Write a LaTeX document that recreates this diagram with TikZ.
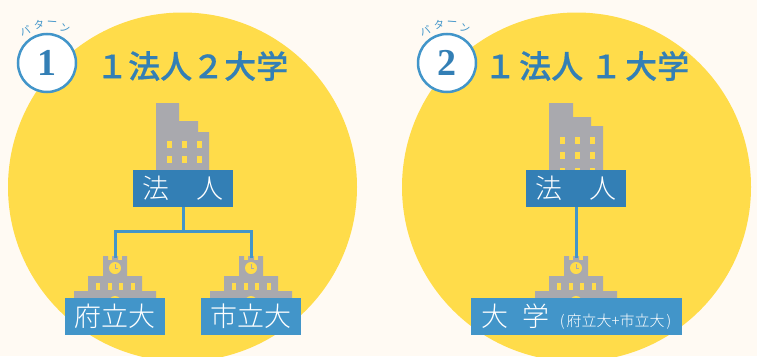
\documentclass[tikz,border=0pt]{standalone}
\usepackage{fontspec}
\setmainfont{Noto Sans CJK JP}
\newfontfamily\numfont{Liberation Serif}
\newfontfamily\headfont[FakeBold=0.6]{Noto Sans CJK JP Medium}
\newfontfamily\platefont{Noto Sans CJK JP Light}
\definecolor{paper}{HTML}{FFFAF3}
\definecolor{sun}{HTML}{FFDC4A}
\definecolor{stone}{HTML}{A9A9AE}
\definecolor{deepblue}{HTML}{337FB5}
\definecolor{skyblue}{HTML}{4295C9}
\begin{document}
\begin{tikzpicture}[x=1pt,y=-1pt]
\tikzset{
    corp/.style={fill=deepblue, text=white, minimum width=100pt, minimum height=37pt, inner sep=0pt, font=\fontsize{27}{27}\selectfont\platefont},
    school/.style={corp, fill=skyblue},
    title/.style={text=deepblue, inner sep=0pt, font=\fontsize{32}{32}\selectfont\headfont},
    badge/.style={circle, fill=white, draw=skyblue, line width=2.5pt, minimum size=58pt, inner sep=0pt, text=deepblue, font=\fontsize{38}{38}\selectfont\numfont\bfseries},
    kana/.style={text=skyblue, inner sep=0pt, font=\fontsize{10.5}{11}\selectfont},
    link/.style={draw=skyblue, line width=3pt},
}
% College building, centred on x = #1.
\def\Campus(#1){
    \fill[stone, shift={(#1,0)}] (-12,256) -- (-7,256) -- (-7,260) -- (-3,260) -- (-3,256) -- (3,256) -- (3,260) -- (7,260) -- (7,256) -- (12,256) -- (12,276)
        -- (27,276) -- (27,291) -- (41,291) -- (41,298) -- (-41,298) -- (-41,291) -- (-27,291) -- (-27,276) -- (-12,276) -- cycle;
    \fill[sun, shift={(#1,0)}] (0,268) circle[radius=6pt];
    \draw[stone, line width=1pt, shift={(#1,0)}] (0,264) -- (0,268) -- (3,268);
    \foreach \wx in {-19,-7,4,16} \fill[sun, shift={(#1,0)}] (\wx,283) rectangle ++(4,7);
    \fill[sun, shift={(#1,0)}] (0,302) circle[radius=6pt];
}
\clip (0,0) rectangle (757,356);
\fill[paper] (0,0) rectangle (757,356);
\fill[sun] (182.5,187) circle[radius=174.5pt];
\fill[sun] (576.5,187) circle[radius=174.5pt];

% Office buildings first.
\fill[stone] (156,103) -- (179,103) -- (179,121) -- (198,121) -- (198,132) -- (209,132) -- (209,170) -- (156,170) -- cycle;
\foreach \wx in {167,182,197} \foreach \wy in {141,156} \fill[sun] (\wx,\wy) rectangle ++(5,7);
\fill[stone] (549,103) -- (573,103) -- (573,117) -- (591,117) -- (591,126) -- (603,126) -- (603,170) -- (549,170) -- cycle;
\foreach \wx in {560,575,590} \foreach \wy in {137,152,168} \fill[sun] (\wx,\wy) rectangle ++(5,7);
\Campus(115)
\Campus(251)
\Campus(576)

% Name plates on top of the buildings.
\node[corp] (corpa) at (183,188.5) {法　人};
\node[corp] (corpb) at (576,188.5) {法　人};
\node[school] (fu) at (115,316.5) {府立大};
\node[school] (shi) at (251,316.5) {市立大};
\node[school, minimum width=211pt] (univ) at (576.5,316.5) {大\hspace{.5em}学\hspace{.4em}{\fontsize{15}{15}\selectfont (\hspace{2pt}府立大+市立大\hspace{2pt})}};

% Connectors.
\coordinate (split) at (183,231);
\coordinate (futop) at (115,258);
\coordinate (shitop) at (251,258);
\coordinate (univtop) at (576,258);
\draw[link] (corpa.south) -- (split);
\draw[link] (futop) |- (split) -| (shitop);
\draw[link] (corpb.south) -- (univtop);

% Headings.
\node[badge] (numa) at (47,63) {1};
\node[badge] (numb) at (447,63) {2};
\node[title, anchor=west] (heada) at (96,66) {１法人２大学};
\node[title, anchor=west] (headb) at (484,66) {１\hspace{3pt}法人\hspace{7pt}１\hspace{3pt}大学};
\node[kana, rotate=20] (kaa) at (25,31) {パ};
\node[kana, rotate=8] (kab) at (39,25) {タ};
\node[kana, rotate=-4] (kac) at (52,24) {ー};
\node[kana, rotate=-15] (kad) at (65,28) {ン};
\node[kana, rotate=20] (kba) at (425,31) {パ};
\node[kana, rotate=8] (kbb) at (439,25) {タ};
\node[kana, rotate=-4] (kbc) at (452,24) {ー};
\node[kana, rotate=-15] (kbd) at (465,28) {ン};
\end{tikzpicture}
\end{document}
